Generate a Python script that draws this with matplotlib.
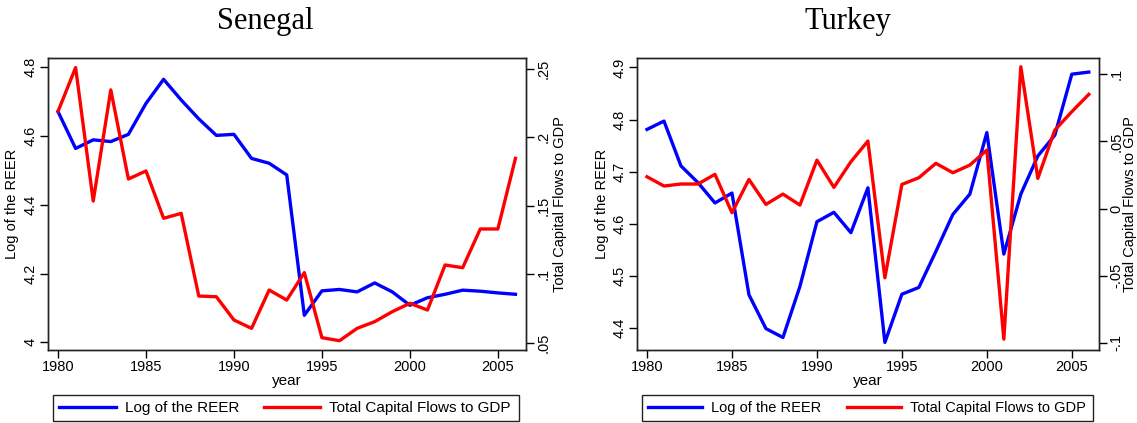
import matplotlib
matplotlib.use("Agg")
import matplotlib.pyplot as plt
from matplotlib.patches import Rectangle

# === DATA ===
years = list(range(1980, 2007))

senegal_reer = [4.671, 4.564, 4.589, 4.584, 4.605, 4.695, 4.765, 4.705, 4.650, 4.602,
                4.605, 4.535, 4.521, 4.487, 4.079, 4.150, 4.154, 4.147, 4.173, 4.147,
                4.108, 4.130, 4.140, 4.152, 4.149, 4.144, 4.140]
senegal_flows = [0.219, 0.251, 0.1535, 0.2347, 0.1696, 0.1755, 0.1409, 0.1445, 0.0841, 0.0836,
                 0.0666, 0.0605, 0.0885, 0.0812, 0.1012, 0.0537, 0.0515, 0.0605, 0.0654, 0.0727,
                 0.0788, 0.0739, 0.1068, 0.1048, 0.1331, 0.1331, 0.1847]

turkey_reer = [4.781, 4.797, 4.711, 4.679, 4.640, 4.659, 4.464, 4.399, 4.382, 4.480,
               4.604, 4.622, 4.583, 4.669, 4.3725, 4.465, 4.478, 4.547, 4.618, 4.657,
               4.775, 4.542, 4.657, 4.730, 4.770, 4.887, 4.891]
turkey_flows = [0.0237, 0.0168, 0.0183, 0.0183, 0.0255, -0.0031, 0.0217, 0.0031, 0.0108, 0.0026,
                0.0361, 0.0158, 0.0349, 0.0503, -0.0516, 0.0180, 0.0230, 0.0337, 0.0267, 0.0324,
                0.0436, -0.0973, 0.1057, 0.0225, 0.0585, 0.0722, 0.0851]

year_ticks = [1980, 1985, 1990, 1995, 2000, 2005]

sen_left_ticks = [4, 4.2, 4.4, 4.6, 4.8]
sen_left_labels = ["4", "4.2", "4.4", "4.6", "4.8"]
sen_right_ticks = [0.05, 0.1, 0.15, 0.2, 0.25]
sen_right_labels = [".05", ".1", ".15", ".2", ".25"]

tur_left_ticks = [4.4, 4.5, 4.6, 4.7, 4.8, 4.9]
tur_left_labels = ["4.4", "4.5", "4.6", "4.7", "4.8", "4.9"]
tur_right_ticks = [-0.1, -0.05, 0, 0.05, 0.1]
tur_right_labels = ["-.1", "-.05", "0", ".05", ".1"]

plt.rcParams['font.family'] = ['Liberation Sans', 'DejaVu Sans']
plt.rcParams['font.size'] = 10.5

BLUE = '#0000ff'
RED = '#ff0000'
EDGE = '#222222'
LW = 2.4
W, H = 1137, 423

fig = plt.figure(figsize=(W / 100, H / 100), dpi=100)


def panel(rect, title, title_x, reer, flows, lticks, llabels, rticks, rlabels,
          lylim, rylim, box, leg_size, leg_gap, rpad):
    ax = fig.add_axes(rect)
    ax2 = ax.twinx()
    l1, = ax.plot(years, reer, color=BLUE, lw=LW)
    l2, = ax2.plot(years, flows, color=RED, lw=LW)

    ax.set_xlim(1979.43, 2006.6)
    ax.set_ylim(*lylim)
    ax2.set_ylim(*rylim)
    ax.set_xticks(year_ticks)
    ax.set_yticks(lticks)
    ax.set_yticklabels(llabels, rotation=90, va='center')
    ax2.set_yticks(rticks)
    ax2.set_yticklabels(rlabels, rotation=90, va='center')

    for a in (ax, ax2):
        for s in a.spines.values():
            s.set_linewidth(1.0)
            s.set_color(EDGE)
        a.tick_params(direction='out', length=5.5, width=1, labelsize=10.5, pad=2)

    ax.set_ylabel('Log of the REER', fontsize=10.5, labelpad=3)
    ax2.set_ylabel('Total Capital Flows to GDP', fontsize=10.5, labelpad=rpad)
    ax.set_xlabel('year', fontsize=11, labelpad=0)

    fig.text(title_x, 0.95, title, ha='center', va='center',
             family='Liberation Serif', fontsize=22)

    # legend box drawn separately, entries placed inside it
    x0, y0, x1, y1 = box
    fig.patches.append(Rectangle((x0 / W, 1 - y1 / H), (x1 - x0) / W, (y1 - y0) / H,
                                 transform=fig.transFigure, fill=False,
                                 edgecolor=EDGE, lw=1.0))
    fig.legend([l1, l2], ['Log of the REER', 'Total Capital Flows to GDP'],
               bbox_to_anchor=((x0 + 6) / W, 1 - (y0 + y1) / 2 / H),
               loc='center left', ncol=2, fontsize=leg_size, frameon=False,
               handlelength=3.7, handletextpad=0.6, columnspacing=leg_gap,
               borderpad=0, borderaxespad=0)
    return ax, ax2


panel([48 / W, 1 - 350 / H, 478 / W, 292 / H], 'Senegal', 265.5 / W,
      senegal_reer, senegal_flows,
      sen_left_ticks, sen_left_labels, sen_right_ticks, sen_right_labels,
      (3.978, 4.827), (0.0447, 0.258),
      (53, 395, 519, 421), 11, 1.6, 2)

panel([637.3 / W, 1 - 350 / H, 461.7 / W, 292 / H], 'Turkey', 848 / W,
      turkey_reer, turkey_flows,
      tur_left_ticks, tur_left_labels, tur_right_ticks, tur_right_labels,
      (4.358, 4.918), (-0.1054, 0.1122),
      (642, 395, 1093, 421), 10.5, 1.8, 0)

fig.savefig('out.png', dpi=100)
